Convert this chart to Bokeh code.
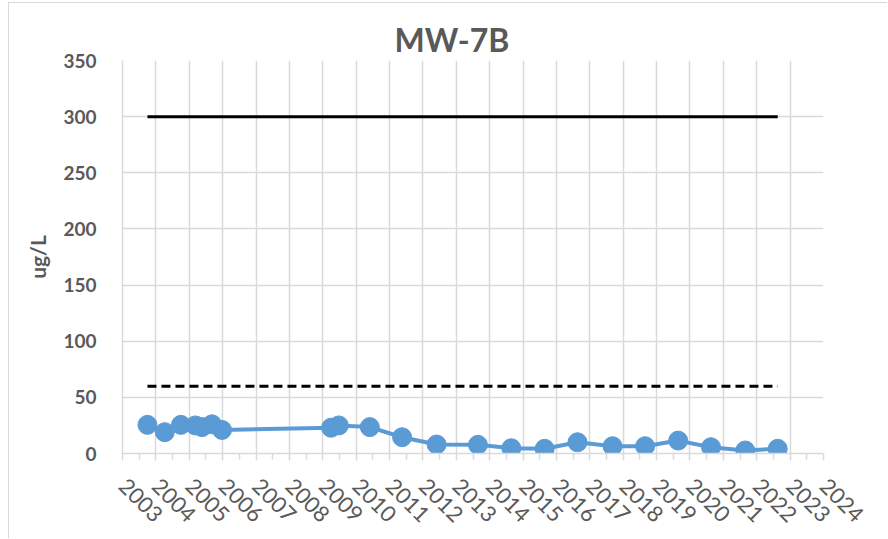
import pandas as pd
from math import pi

from bokeh.plotting import figure
from bokeh.models import ColumnDataSource, FixedTicker, Range1d
from bokeh.embed import file_html
from bokeh.resources import INLINE

# Sampling events for well MW-7B (concentration in ug/L)
sample_dates = [
    "2003-10-01", "2004-04-08", "2004-10-01", "2005-03-08", "2005-05-20",
    "2005-09-06", "2005-12-25", "2009-04-01", "2009-06-25", "2010-05-30",
    "2011-05-18", "2012-05-30", "2013-08-25", "2014-08-25", "2015-08-25",
    "2016-08-18", "2017-09-06", "2018-08-28", "2019-08-25", "2020-08-18",
    "2021-08-28", "2022-08-18",
]
concentration = [
    25.5, 19, 25.5, 25, 23.5, 26, 21, 23, 25, 23.5, 14.5, 8,
    7.7, 4.7, 4.2, 10, 6.5, 6.5, 11.5, 5.6, 2.7, 4.2,
]

# Regulatory reference levels drawn over the sampling period
limit_dates = ["2003-10-01", "2022-08-18"]
upper_limit = [300, 300]
lower_limit = [60, 60]

tick_years = list(range(2003, 2025))
tick_labels = [str(y) for y in tick_years]
y_ticks = [0, 50, 100, 150, 200, 250, 300, 350]

TEXT = "#595959"
GRID = "#d9d9d9"
BLUE = "#5b9bd5"
FONT = "Lato"


def ms(ts):
    return pd.Timestamp(ts).value // 10**6


src = ColumnDataSource(dict(date=pd.to_datetime(sample_dates), value=concentration))
limits = ColumnDataSource(dict(date=pd.to_datetime(limit_dates),
                               upper=upper_limit, lower=lower_limit))

p = figure(
    width=879, height=536,
    x_axis_type="datetime",
    x_range=Range1d(pd.Timestamp(f"{tick_years[0]}-01-01"),
                    pd.Timestamp(f"{tick_years[-1]}-01-01")),
    y_range=Range1d(y_ticks[0], y_ticks[-1]),
    output_backend="svg", toolbar_location=None,
    min_border_left=113, min_border_right=65,
    min_border_top=57, min_border_bottom=86,
)
# thin frame around the whole chart area
p.styles = {
    "margin-left": "8px", "margin-top": "2px",
    "border-left": "1px solid #d9d9d9", "border-top": "1px solid #d9d9d9",
}
p.outline_line_color = None
p.background_fill_color = "white"
p.border_fill_color = "white"

# Title
p.title.text = "MW-7B"
p.title.text_font = FONT
p.title.text_font_size = "32px"
p.title.text_font_style = "bold"
p.title.text_color = TEXT
p.title.align = "left"
p.title.offset = 272
p.title.standoff = 3

# X axis: one major tick per year, minor tick mid-year, slanted year labels
year_ms = [ms(f"{y}-01-01") for y in tick_years]
p.xaxis.ticker = FixedTicker(
    ticks=year_ms,
    minor_ticks=[ms(f"{y}-07-02") for y in tick_years[:-1]],
)
p.xaxis.major_label_overrides = dict(zip(year_ms, tick_labels))
p.xaxis.major_label_orientation = -pi / 4
p.xaxis.major_label_text_font = FONT
p.xaxis.major_label_text_font_size = "22px"
p.xaxis.major_label_text_color = TEXT
p.xaxis.major_label_standoff = 22
p.xaxis.axis_line_color = GRID
p.xaxis.axis_line_width = 1.5
p.xaxis.major_tick_line_color = GRID
p.xaxis.minor_tick_line_color = GRID
p.xaxis.major_tick_line_width = 1.5
p.xaxis.minor_tick_line_width = 1.5
p.xaxis.major_tick_in = 0
p.xaxis.major_tick_out = 7
p.xaxis.minor_tick_in = 0
p.xaxis.minor_tick_out = 6

# Y axis
p.yaxis.ticker = FixedTicker(ticks=y_ticks)
p.yaxis.axis_label = "ug/L"
p.yaxis.axis_label_text_font = FONT
p.yaxis.axis_label_text_font_size = "21px"
p.yaxis.axis_label_text_font_style = "bold"
p.yaxis.axis_label_text_color = TEXT
p.yaxis.axis_label_standoff = 10
p.yaxis.major_label_text_font = FONT
p.yaxis.major_label_text_font_size = "19px"
p.yaxis.major_label_text_font_style = "bold"
p.yaxis.major_label_text_color = TEXT
p.yaxis.major_label_standoff = 20
p.yaxis.axis_line_color = GRID
p.yaxis.axis_line_width = 1.5
p.yaxis.major_tick_line_color = None
p.yaxis.minor_tick_line_color = None

p.xgrid.grid_line_color = GRID
p.xgrid.grid_line_width = 1.5
p.ygrid.grid_line_color = GRID
p.ygrid.grid_line_width = 1.5

# Reference levels
p.line("date", "upper", source=limits, line_color="black", line_width=3)
p.line("date", "lower", source=limits, line_color="black", line_width=3,
       line_dash="9 5")

# Measured concentrations
p.line("date", "value", source=src, line_color=BLUE, line_width=4)
p.scatter("date", "value", source=src, size=19, fill_color=BLUE, line_color=BLUE)

open("out.html", "w").write(file_html(p, INLINE))
